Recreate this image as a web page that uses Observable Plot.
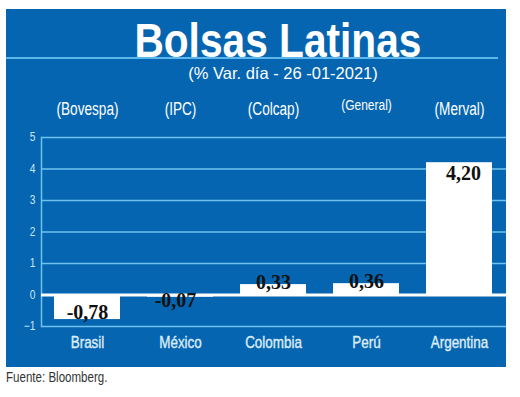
<!DOCTYPE html>
<html><head><meta charset="utf-8">
<script src="https://cdn.jsdelivr.net/npm/d3@7"></script>
<script src="https://cdn.jsdelivr.net/npm/@observablehq/plot@0.6"></script>
<style>
html,body{margin:0;padding:0;background:#fff}
body{width:520px;height:397px;position:relative;overflow:hidden;font-family:"Liberation Sans",sans-serif}
#panel{position:absolute;left:6px;top:9px;width:500px;height:358px;background:#0565b0}
#title{position:absolute;left:22px;top:10.5px;width:500px;text-align:center;font-size:49px;line-height:40px;font-weight:bold;color:#fff;white-space:nowrap}
#title span{display:inline-block;transform:scaleX(0.83);transform-origin:50% 50%}
#rule{position:absolute;left:0;top:48px;width:492px;height:2px;background:#5cb8ec}
#subtitle{position:absolute;left:27px;top:56px;width:500px;text-align:center;font-size:16.5px;line-height:1;color:#fff;white-space:nowrap}
#chart{position:absolute;left:0;top:79px}
#source{position:absolute;left:6px;top:369px;font-size:15px;line-height:1;color:#333;white-space:nowrap;transform:scaleX(0.77);transform-origin:0 50%}
</style>
</head><body>
<div id="panel">
  <div id="title"><span>Bolsas Latinas</span></div>
  <div id="rule"></div>
  <div id="subtitle">(% Var. día - 26 -01-2021)</div>
  <div id="chart"></div>
</div>
<div id="source">Fuente: Bloomberg.</div>
<script>
const countries = ["Brasil", "México", "Colombia", "Perú", "Argentina"];
const indices = ["(Bovespa)", "(IPC)", "(Colcap)", "(General)", "(Merval)"];
const values = [-0.78, -0.07, 0.33, 0.36, 4.20];
const labels = ["-0,78", "-0,07", "0,33", "0,36", "4,20"];
const yTicks = [-1, 0, 1, 2, 3, 4, 5];

const data = countries.map((c, i) => ({country: c, index: indices[i], value: values[i], label: labels[i]}));

const grid = "#6fc3ee";
const lbl = {fontFamily: "Liberation Serif", fontWeight: "bold", fontSize: 20, fill: "#111"};

const chart = Plot.plot({
  width: 500,
  height: 279,
  marginLeft: 35,
  marginRight: 0,
  marginTop: 49,
  marginBottom: 41,
  style: {background: "transparent", fontFamily: "Liberation Sans, sans-serif", overflow: "visible"},
  x: {domain: countries, paddingInner: 0.29, paddingOuter: 0.145, axis: null},
  y: {domain: [-1, 5], axis: null},
  marks: [
    Plot.gridY(yTicks.filter(t => t !== 0), {stroke: grid, strokeOpacity: 1, strokeWidth: 1.5}),
    Plot.frame({anchor: "left", stroke: grid, strokeWidth: 1.5}),
    Plot.axisY(yTicks, {tickSize: 0, tickPadding: 6, fontSize: 12, fill: "#cfe5f6", label: null}),
    Plot.barY(data, {x: "country", y: "value", fill: "#fff"}),
    Plot.ruleY([0], {stroke: "#fff", strokeWidth: 3}),
    Plot.text(data.filter(d => d.country === "Brasil"), {x: "country", y: "value", text: "label", lineAnchor: "bottom", dy: -1, ...lbl}),
    Plot.text(data.filter(d => d.country === "México"), {x: "country", y: "value", text: "label", lineAnchor: "top", dy: -4, dx: -5, ...lbl}),
    Plot.text(data.filter(d => d.value > 0 && d.value < 1), {x: "country", y: "value", text: "label", lineAnchor: "middle", dy: -2, ...lbl}),
    Plot.text(data.filter(d => d.value >= 1), {x: "country", y: "value", text: "label", lineAnchor: "top", dy: 3, dx: 4, ...lbl}),
    Plot.text(data.filter(d => d.index !== "(General)"), {x: "country", text: "index", frameAnchor: "top", dy: -35.5, fontSize: 18, fill: "#fff"}),
    Plot.text(data.filter(d => d.index === "(General)"), {x: "country", text: "index", frameAnchor: "top", dy: -38, fontSize: 15, fill: "#fff"}),
    Plot.text(data, {x: "country", text: "country", frameAnchor: "bottom", dy: 21, fontSize: 17, fill: "#dcebf7", stroke: "#dcebf7", strokeWidth: 0.4})
  ]
});
document.getElementById("chart").appendChild(chart);

// condense sans-serif labels horizontally (the original uses a condensed typeface)
const squeeze = {"18": 0.755, "15": 0.8, "17": 0.79, "12": 0.85};
chart.querySelectorAll("text").forEach(t => {
  const g = t.closest("g");
  if (!g || g.getAttribute("font-family") === "Liberation Serif") return;
  const s = squeeze[g.getAttribute("font-size")];
  if (!s) return;
  const len = t.getComputedTextLength();
  if (len > 0) {
    t.setAttribute("textLength", (len * s).toFixed(2));
    t.setAttribute("lengthAdjust", "spacingAndGlyphs");
  }
});
</script>
</body></html>
